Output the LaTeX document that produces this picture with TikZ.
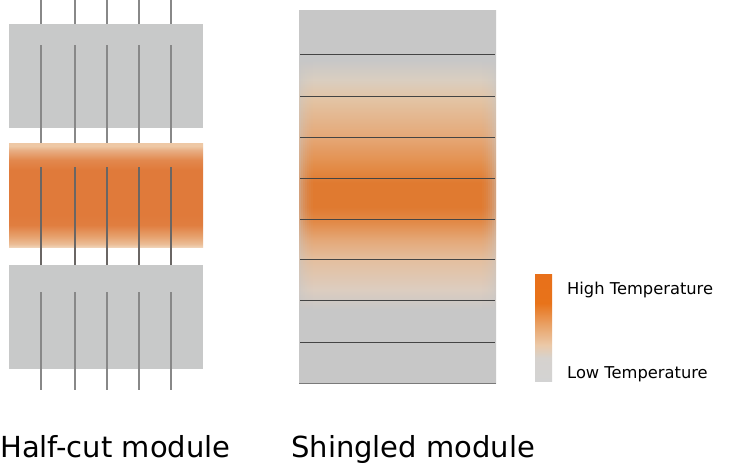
\documentclass[tikz,border=0pt]{standalone}
\usepackage{fontspec}
\setmainfont{DejaVu Sans}
\definecolor{pgray}{HTML}{C8C9C9}
\definecolor{sgray}{HTML}{C7C7C7}
\definecolor{wg}{HTML}{888888}
\definecolor{wo}{HTML}{6A6664}
\definecolor{sline}{HTML}{444444}
\definecolor{bline}{HTML}{7A7A7A}
% half-cut orange
\definecolor{oa}{HTML}{F0D2B6}
\definecolor{ob}{HTML}{EBBD96}
\definecolor{oc}{HTML}{E6A06C}
\definecolor{od}{HTML}{E07E40}
\definecolor{oe}{HTML}{E07A3A}
\definecolor{of}{HTML}{E2884E}
\definecolor{og}{HTML}{E8AF85}
\definecolor{oh}{HTML}{EEC8A5}
% shingled
\definecolor{sa}{HTML}{C7C7C7}
\definecolor{sb}{HTML}{DCCDC0}
\definecolor{sc}{HTML}{E4BF9F}
\definecolor{sd}{HTML}{E4A878}
\definecolor{se}{HTML}{E28A48}
\definecolor{sf}{HTML}{E07A30}
\definecolor{sg}{HTML}{E38A45}
\definecolor{sh}{HTML}{E5A877}
\definecolor{si}{HTML}{E3C3A3}
\definecolor{sj}{HTML}{DACEC0}
% legend
\definecolor{la}{HTML}{D3D3D3}
\definecolor{lb}{HTML}{D6D2CE}
\definecolor{lc}{HTML}{EBC9A8}
\definecolor{ld}{HTML}{E9A267}
\definecolor{le}{HTML}{E8731A}
\definecolor{lf}{HTML}{E8701A}
\pgfdeclareverticalshading{hcorange}{100bp}{color(0bp)=(oa); color(25bp)=(oa); color(26.44bp)=(ob); color(30.29bp)=(oc); color(35.58bp)=(od); color(40.38bp)=(oe); color(62.02bp)=(oe); color(66.83bp)=(of); color(71.63bp)=(og); color(73.56bp)=(oh); color(75bp)=(oh); color(100bp)=(oh)}
\pgfdeclareverticalshading{shingle}{100bp}{color(0bp)=(sa); color(34.79bp)=(sa); color(37.47bp)=(sb); color(41.49bp)=(sc); color(44.17bp)=(sd); color(46.58bp)=(se); color(48.59bp)=(sf); color(51.81bp)=(sf); color(53.82bp)=(sg); color(57.98bp)=(sh); color(62.94bp)=(si); color(65.62bp)=(sj); color(68.30bp)=(sa); color(100bp)=(sa)}
\pgfdeclareverticalshading{legendbar}{100bp}{color(0bp)=(la); color(25bp)=(la); color(35.75bp)=(lb); color(41.82bp)=(lc); color(51.17bp)=(ld); color(61.45bp)=(le); color(75bp)=(lf); color(100bp)=(lf)}
\tikzset{
  wiregray/.style={draw=wg, line width=1.1pt},
  wireorange/.style={draw=wo, line width=1.1pt},
  shline/.style={draw=sline, line width=0.8pt},
  biglabel/.style={anchor=base west, inner sep=0pt, font=\fontsize{29}{34}\selectfont},
  leglabel/.style={anchor=base west, inner sep=0pt, font=\fontsize{16.3}{20}\selectfont}
}
\begin{document}
\begin{tikzpicture}[x=1pt,y=-1pt]
\useasboundingbox[fill=white] (0,0) rectangle (744,467);
% ---- half-cut module ----
\foreach \x in {41,75,107,139,171} \draw[wiregray] (\x,0) -- (\x,24);
\fill[pgray] (9,24) rectangle (203,128);
\foreach \x in {41,75,107,139,171} \draw[wiregray] (\x,45) -- (\x,143);
\shade[shading=hcorange] (9,143) rectangle (203,247);
\foreach \x in {41,75,107,139,171} \draw[wireorange] (\x,167) -- (\x,265);
\fill[pgray] (9,265) rectangle (203,369);
\foreach \x in {41,75,107,139,171} \draw[wiregray] (\x,292) -- (\x,390);
% ---- shingled module ----
\shade[shading=shingle] (299,10) rectangle (496,383);
\foreach \i/\o in {0/0.5,1/0.38,2/0.28,3/0.2,4/0.13,5/0.08,6/0.04}{
  \fill[sgray, opacity=\o] (299+2*\i,10) rectangle (301+2*\i,383);
  \fill[sgray, opacity=\o] (494-2*\i,10) rectangle (496-2*\i,383);
}
\foreach \y in {54,96,137,178,219,259,300,342} \draw[shline] (300,\y) -- (495,\y);
\draw[draw=bline, line width=0.8pt] (299,383) -- (496,383);
% ---- legend ----
\shade[shading=legendbar] (535,274) rectangle (552,381);
\node[leglabel] (hi) at (567,294) {High Temperature};
\node[leglabel] (lo) at (567,378) {Low Temperature};
% ---- titles ----
\node[biglabel] (hc) at (0,457) {Half-cut module};
\node[biglabel] (sh) at (291,457) {Shingled module};
\end{tikzpicture}
\end{document}
